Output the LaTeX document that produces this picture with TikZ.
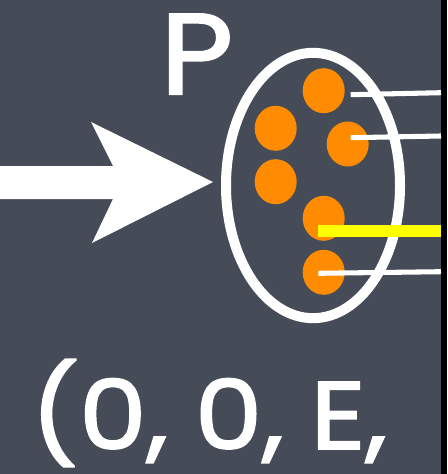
\documentclass[tikz,border=0pt]{standalone}
\usepackage{fontspec}
\newfontfamily\chalk{Poppins}[FakeBold=1.8]
\usetikzlibrary{shapes.geometric,calc}
\definecolor{slate}{HTML}{454C58}
\definecolor{dotorange}{HTML}{FF8C00}
\definecolor{hiyellow}{HTML}{FFFF00}
\tikzset{
  dot/.style={ellipse,fill=dotorange,draw=none,inner sep=0pt,minimum width=31.5pt,minimum height=33.75pt},
  wline/.style={draw=white,line width=3.8pt},
  yline/.style={draw=hiyellow,line width=9.5pt},
  bigtext/.style={text=white,font=\chalk\fontsize{72}{78}\selectfont,inner sep=0pt}
}
\begin{document}
\begin{tikzpicture}[x=0.75pt,y=-0.75pt]
\useasboundingbox (0,0) rectangle (447,474);
\fill[slate] (0,0) rectangle (447,474);
\fill[black] (441,0) rectangle (447,474);
% arrow
\fill[white] (0,166) -- (113,166) -- (91,122) -- (213,182) -- (92,243) -- (113,199) -- (0,199) -- cycle;
% ellipse
\node[ellipse,draw=white,line width=7.5pt,inner sep=0pt,minimum width=130.5pt,minimum height=199pt] (P) at (313,185.5) {};
% label P
\node[bigtext,font=\chalk\fontsize{86}{88}\selectfont,anchor=base west,xscale=1.1] (plabel) at (160,94) {P};
% dots
\node[dot] (d1) at (323.7,90.7) {};
\node[dot] (d2) at (275.7,128.3) {};
\node[dot] (d3) at (347.7,144) {};
\node[dot] (d4) at (275.7,181.7) {};
\node[dot] (d5) at (323.7,218.3) {};
\node[dot] (d6) at (323.7,272.3) {};
% line ends
\coordinate (s1) at (350.7,94.7);
\coordinate (e1) at (441,92.7);
\coordinate (s3) at (350.7,137.7);
\coordinate (e3) at (441,136);
\coordinate (s5) at (318.3,231);
\coordinate (e5) at (441,231);
\coordinate (s6) at (318.3,273.3);
\coordinate (e6) at (441,271.7);
\draw[wline] (s1) -- (e1);
\draw[wline] (s3) -- (e3);
\draw[yline] (s5) -- (e5);
\draw[wline] (s6) -- (e6);
% bottom text
\node[bigtext,anchor=base west,xscale=1.12] (tuple) at (30,449) {(0,\hspace{0.25em}0,\hspace{0.25em}E,};
\end{tikzpicture}
\end{document}
